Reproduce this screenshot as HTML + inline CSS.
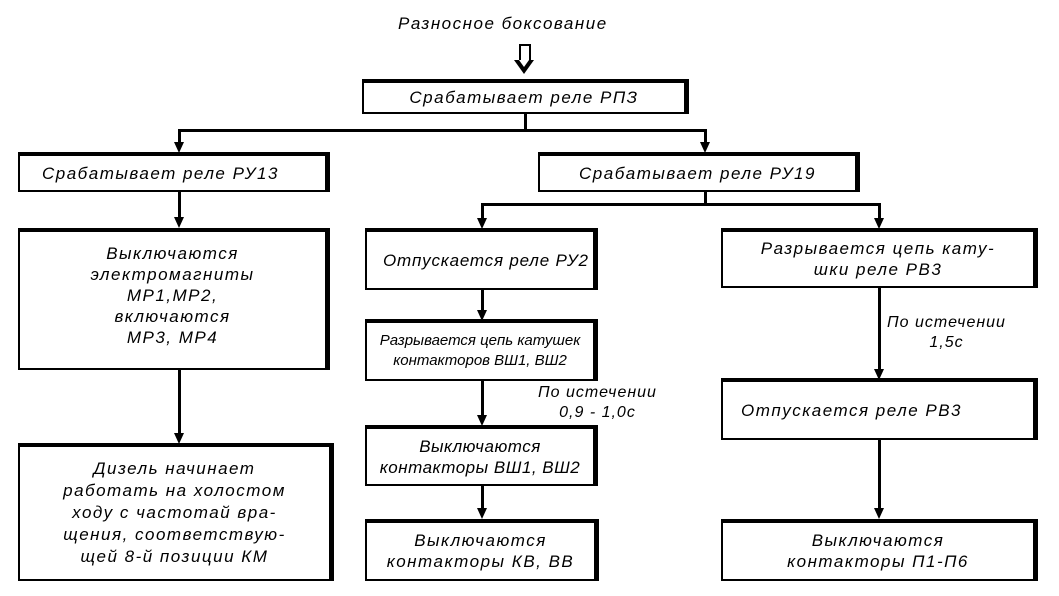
<!DOCTYPE html>
<html><head><meta charset="utf-8"><style>
body{margin:0;width:1059px;height:596px;background:#fff;position:relative;overflow:hidden;font-family:"Liberation Sans","DejaVu Sans",sans-serif;font-style:italic;color:#000}
.b{position:absolute;box-sizing:border-box;border:2px solid #000;border-top-width:4px;border-right-width:5px;display:flex;align-items:center;justify-content:center;text-align:center;font-size:17px;line-height:21px;letter-spacing:1.5px;white-space:nowrap}
.l{position:absolute;background:#000}
.t{position:absolute;font-size:16px;line-height:20px;letter-spacing:1px;white-space:nowrap}
.a{position:absolute;width:0;height:0;border-left:5px solid transparent;border-right:5px solid transparent;border-top:11px solid #000}
</style></head><body>
<div class="t" style="left:398px;top:14px;font-size:17px;letter-spacing:1.5px">Разносное боксование</div>
<div style="position:absolute;left:519px;top:44px;width:8px;height:16px;border:2px solid #000;border-bottom:none"></div>
<div style="position:absolute;left:514px;top:60px;width:0;height:0;border-left:10px solid transparent;border-right:10px solid transparent;border-top:14px solid #000"></div>
<div style="position:absolute;left:519px;top:60px;width:0;height:0;border-left:5px solid transparent;border-right:5px solid transparent;border-top:7px solid #fff"></div>

<div class="b" style="left:362px;top:79px;width:327px;height:35px">Срабатывает реле РПЗ</div>
<div class="l" style="left:524px;top:114px;width:3px;height:17px"></div>
<div class="l" style="left:178px;top:129px;width:529px;height:3px"></div>
<div class="l" style="left:178px;top:129px;width:3px;height:16px"></div><div class="a" style="left:174px;top:142px"></div>
<div class="l" style="left:704px;top:129px;width:3px;height:16px"></div><div class="a" style="left:700px;top:142px"></div>

<div class="b" style="left:18px;top:152px;width:312px;height:40px;justify-content:flex-start;padding-left:22px">Срабатывает реле РУ13</div>
<div class="b" style="left:538px;top:152px;width:322px;height:40px">Срабатывает реле РУ19</div>

<div class="l" style="left:178px;top:192px;width:3px;height:28px"></div><div class="a" style="left:174px;top:217px"></div>
<div class="b" style="left:18px;top:228px;width:312px;height:142px;padding-bottom:10px">Выключаются<br>электромагниты<br>МР1,МР2,<br>включаются<br>МР3, МР4</div>
<div class="l" style="left:178px;top:370px;width:3px;height:66px"></div><div class="a" style="left:174px;top:433px"></div>
<div class="b" style="left:18px;top:443px;width:316px;height:138px;font-size:17px;line-height:22px">Дизель начинает<br>работать на холостом<br>ходу с частотай вра-<br>щения, соответствую-<br>щей 8-й позиции КМ</div>

<div class="l" style="left:704px;top:192px;width:3px;height:14px"></div>
<div class="l" style="left:481px;top:203px;width:400px;height:3px"></div>
<div class="l" style="left:481px;top:203px;width:3px;height:18px"></div><div class="a" style="left:477px;top:218px"></div>
<div class="l" style="left:878px;top:203px;width:3px;height:18px"></div><div class="a" style="left:874px;top:218px"></div>

<div class="b" style="left:365px;top:228px;width:233px;height:62px;justify-content:flex-start;padding-left:16px;letter-spacing:0.8px">Отпускается реле РУ2</div>
<div class="b" style="left:721px;top:228px;width:317px;height:60px">Разрывается цепь кату-<br>шки реле РВ3</div>

<div class="l" style="left:481px;top:290px;width:3px;height:24px"></div><div class="a" style="left:477px;top:310px"></div>
<div class="b" style="left:365px;top:319px;width:233px;height:62px;font-size:15px;line-height:20px;letter-spacing:0px">Разрывается цепь катушек<br>контакторов ВШ1, ВШ2</div>
<div class="l" style="left:481px;top:381px;width:3px;height:38px"></div><div class="a" style="left:477px;top:415px"></div>
<div class="t" style="left:538px;top:383px;text-align:center">По истечении<br>0,9 - 1,0с</div>
<div class="b" style="left:365px;top:425px;width:233px;height:61px;letter-spacing:0.5px">Выключаются<br>контакторы ВШ1, ВШ2</div>
<div class="l" style="left:481px;top:486px;width:3px;height:26px"></div><div class="a" style="left:477px;top:508px"></div>
<div class="b" style="left:365px;top:519px;width:234px;height:62px">Выключаются<br>контакторы КВ, ВВ</div>

<div class="l" style="left:878px;top:288px;width:3px;height:84px"></div><div class="a" style="left:874px;top:369px"></div>
<div class="t" style="left:887px;top:313px;text-align:center">По истечении<br>1,5с</div>
<div class="b" style="left:721px;top:378px;width:317px;height:62px;justify-content:flex-start;padding-left:18px">Отпускается реле РВ3</div>
<div class="l" style="left:878px;top:440px;width:3px;height:72px"></div><div class="a" style="left:874px;top:508px"></div>
<div class="b" style="left:721px;top:519px;width:317px;height:62px">Выключаются<br>контакторы П1-П6</div>
</body></html>
